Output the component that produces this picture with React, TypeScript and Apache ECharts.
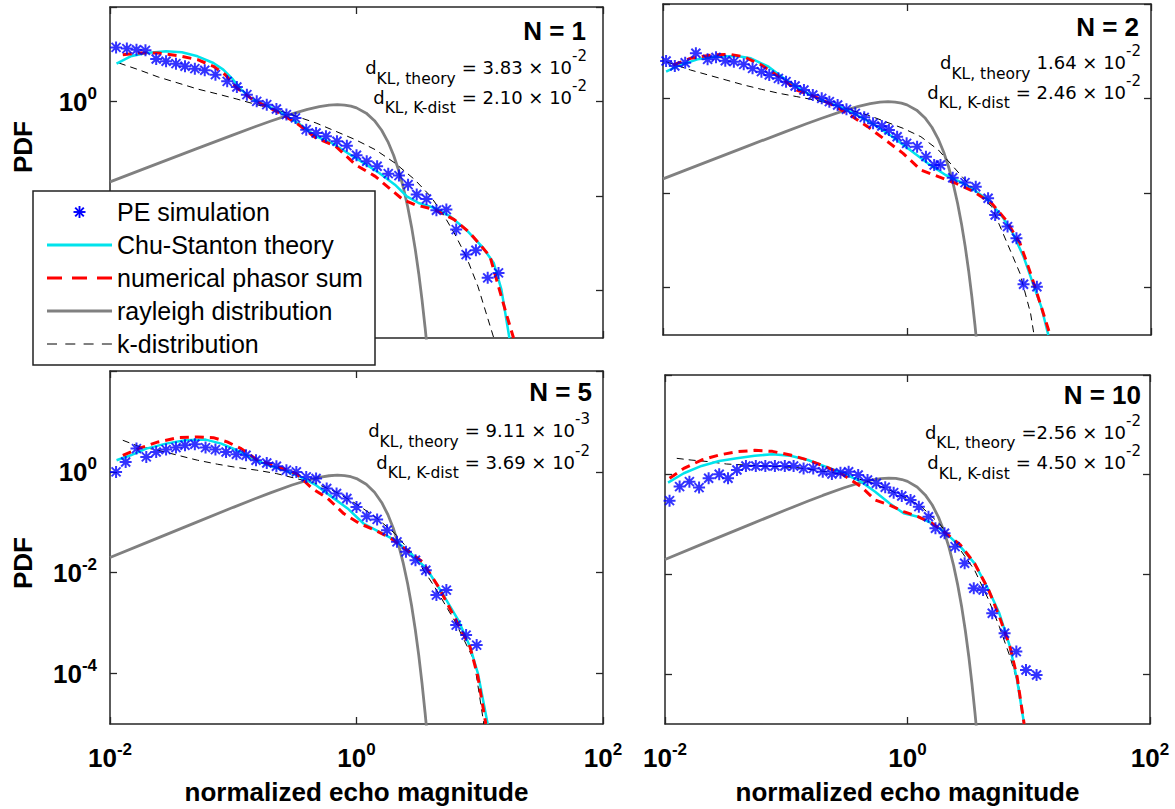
import { useEffect, useRef } from 'react';
import * as echarts from 'echarts';

const LABEL_FONT = '"Liberation Sans", Arial, Helvetica, sans-serif';
const NOTE_FONT = '"DejaVu Sans", Verdana, sans-serif';
const AXIS_COLOR = '#262626';

// Rayleigh PDF (same curve in every panel)
const rayleighX = [0.01, 0.02, 0.05, 0.1, 0.15, 0.2, 0.3, 0.4, 0.5, 0.6, 0.7, 0.8, 0.9, 1.0, 1.2, 1.4, 1.6, 1.8, 2.0, 2.2, 2.4, 2.6, 2.8, 3.0, 3.2, 3.4, 3.6, 3.7];
const rayleighY = [0.02, 0.04, 0.0998, 0.198, 0.293, 0.384, 0.548, 0.682, 0.779, 0.837, 0.858, 0.844, 0.801, 0.736, 0.569, 0.394, 0.247, 0.141, 0.0733, 0.0348, 0.0151, 0.00603, 0.00221, 0.00074, 0.000229, 0.0000647, 0.0000169, 0.0000084];

// N = 1
const n1StarX = [0.0112, 0.0137, 0.0164, 0.0194, 0.0237, 0.0285, 0.0343, 0.0406, 0.0488, 0.0587, 0.0717, 0.0893, 0.107, 0.129, 0.155, 0.187, 0.224, 0.27, 0.32, 0.391, 0.47, 0.565, 0.694, 0.835, 1.0, 1.21, 1.47, 1.81, 2.21, 2.62, 3.08, 3.7, 4.45, 5.36, 6.44, 7.75, 9.31, 11.6, 14.2];
const n1StarY = [14.0, 13.2, 12.5, 12.1, 7.96, 7.1, 6.34, 5.57, 4.97, 4.58, 3.71, 2.68, 2.04, 1.4, 1.01, 0.861, 0.698, 0.53, 0.451, 0.255, 0.217, 0.185, 0.145, 0.117, 0.0731, 0.0546, 0.0428, 0.0299, 0.0272, 0.0175, 0.0108, 0.00873, 0.00502, 0.00519, 0.00196, 0.000581, 0.000718, 0.000187, 0.000238];
const n1TheoryX = [0.0113, 0.0147, 0.0197, 0.0285, 0.0383, 0.0514, 0.069, 0.083, 0.0998, 0.116, 0.144, 0.194, 0.26, 0.35, 0.47, 0.631, 0.847, 1.14, 1.53, 2.05, 2.56, 3.19, 4.3, 5.77, 7.75, 10.4, 13.0, 15.0, 17.4];
const n1TheoryY = [6.33, 9.06, 10.6, 11.6, 11.0, 9.06, 6.54, 4.73, 2.9, 1.79, 1.1, 0.793, 0.528, 0.325, 0.184, 0.133, 0.0817, 0.0502, 0.0309, 0.0175, 0.00991, 0.00717, 0.00561, 0.00374, 0.00196, 0.000869, 0.000386, 0.000105, 0.00001];
const n1PhasorX = [0.0127, 0.017, 0.0246, 0.0356, 0.0514, 0.069, 0.0861, 0.107, 0.144, 0.224, 0.325, 0.47, 0.679, 0.982, 1.42, 2.05, 2.38, 2.97, 4.3, 6.21, 8.34, 12.1, 16.2, 18.8];
const n1PhasorY = [9.81, 10.6, 10.6, 9.35, 7.69, 5.56, 3.71, 1.94, 1.1, 0.622, 0.352, 0.17, 0.113, 0.0463, 0.0262, 0.0117, 0.00843, 0.0066, 0.00518, 0.00318, 0.00166, 0.000534, 0.0000366, 0.00001];
const n1KdistX = [0.0118, 0.017, 0.0246, 0.0356, 0.0514, 0.0743, 0.107, 0.155, 0.224, 0.325, 0.47, 0.679, 0.982, 1.42, 2.05, 2.97, 3.99, 4.98, 6.21, 7.75, 9.66, 13.0];
const n1KdistY = [6.54, 4.73, 3.31, 2.47, 1.84, 1.45, 1.13, 0.86, 0.675, 0.487, 0.352, 0.235, 0.156, 0.0961, 0.0502, 0.0223, 0.00991, 0.0044, 0.00166, 0.000534, 0.000124, 0.00001];

// N = 2
const n2StarX = [0.0106, 0.0125, 0.0152, 0.0186, 0.0232, 0.0272, 0.0324, 0.0381, 0.0459, 0.0542, 0.0641, 0.0743, 0.0883, 0.102, 0.121, 0.143, 0.169, 0.2, 0.231, 0.27, 0.319, 0.377, 0.446, 0.527, 0.622, 0.711, 0.83, 0.993, 1.21, 1.43, 1.67, 1.88, 2.37, 2.99, 3.66, 4.62, 5.28, 6.67, 7.89, 9.02, 11.6];
const n2StarY = [6.24, 4.89, 5.74, 9.06, 6.76, 7.45, 6.33, 6.03, 5.29, 4.36, 3.71, 3.15, 2.68, 2.28, 1.85, 1.52, 1.19, 1.01, 0.861, 0.732, 0.592, 0.487, 0.401, 0.299, 0.263, 0.216, 0.156, 0.113, 0.0961, 0.0591, 0.0394, 0.0394, 0.0212, 0.0167, 0.0137, 0.00777, 0.00345, 0.00196, 0.00111, 0.000118, 0.000105];
const n2TheoryX = [0.0106, 0.0138, 0.0192, 0.0269, 0.0402, 0.0525, 0.0733, 0.102, 0.143, 0.2, 0.279, 0.39, 0.544, 0.76, 1.06, 1.48, 2.07, 2.71, 3.54, 4.62, 6.04, 7.38, 9.02, 11.0, 12.6, 14.4];
const n2TheoryY = [3.71, 5.13, 6.76, 7.69, 7.94, 7.09, 4.73, 2.47, 1.4, 0.933, 0.675, 0.45, 0.276, 0.156, 0.0817, 0.0427, 0.0242, 0.0175, 0.0117, 0.00716, 0.00318, 0.00141, 0.000454, 0.000105, 0.0000397, 0.00001];
const n2PhasorX = [0.0121, 0.0168, 0.0252, 0.0352, 0.0459, 0.0641, 0.0895, 0.125, 0.175, 0.244, 0.341, 0.476, 0.665, 0.929, 1.3, 1.81, 2.53, 3.54, 4.94, 6.46, 8.44, 10.3, 12.6, 14.9];
const n2PhasorY = [5.13, 7.09, 8.34, 8.63, 7.69, 5.13, 2.9, 1.52, 1.1, 0.732, 0.45, 0.255, 0.133, 0.0695, 0.0309, 0.0223, 0.0161, 0.0107, 0.00609, 0.00271, 0.000869, 0.000201, 0.0000397, 0.00001];
const n2KdistX = [0.0106, 0.0168, 0.0235, 0.0329, 0.0459, 0.0641, 0.0895, 0.125, 0.175, 0.244, 0.341, 0.476, 0.665, 0.929, 1.3, 1.81, 2.53, 3.54, 4.94, 6.46, 8.44, 10.3, 11.0];
const n2KdistY = [6.03, 4.02, 3.15, 2.47, 1.94, 1.57, 1.29, 1.1, 0.933, 0.767, 0.573, 0.45, 0.325, 0.235, 0.156, 0.0817, 0.0309, 0.0117, 0.00518, 0.00102, 0.000201, 0.0000287, 0.00001];

// N = 5
const n5StarX = [0.0112, 0.0134, 0.0164, 0.0197, 0.0237, 0.0285, 0.0343, 0.0406, 0.0488, 0.0596, 0.0717, 0.0874, 0.106, 0.127, 0.153, 0.187, 0.224, 0.27, 0.325, 0.391, 0.47, 0.573, 0.689, 0.835, 1.0, 1.21, 1.47, 1.77, 2.13, 2.52, 3.01, 3.65, 4.45, 5.36, 6.44, 7.75, 9.44];
const n5StarY = [0.997, 1.57, 2.89, 1.98, 2.48, 2.76, 3.03, 3.36, 3.52, 3.03, 2.76, 2.48, 2.23, 2.13, 1.7, 1.5, 1.29, 1.08, 0.997, 0.794, 0.736, 0.467, 0.372, 0.296, 0.202, 0.132, 0.114, 0.0697, 0.0409, 0.0259, 0.0177, 0.0112, 0.0036, 0.00452, 0.000914, 0.000579, 0.000367];
const n5TheoryX = [0.0113, 0.0147, 0.0197, 0.0285, 0.0406, 0.0596, 0.08, 0.107, 0.144, 0.194, 0.26, 0.35, 0.47, 0.631, 0.847, 1.14, 1.53, 2.05, 2.76, 3.7, 4.98, 6.69, 8.34, 9.66, 11.6];
const n5TheoryY = [1.7, 2.13, 2.89, 3.63, 4.23, 4.36, 3.63, 2.68, 1.83, 1.35, 1.08, 0.794, 0.543, 0.319, 0.188, 0.0946, 0.0646, 0.0442, 0.024, 0.0121, 0.00388, 0.00115, 0.00034, 0.000101, 0.00001];
const n5PhasorX = [0.0127, 0.017, 0.0246, 0.0356, 0.0514, 0.069, 0.0893, 0.116, 0.155, 0.224, 0.325, 0.437, 0.586, 0.787, 1.06, 1.42, 1.91, 2.56, 3.44, 4.62, 6.21, 8.34, 9.66, 11.2];
const n5PhasorY = [2.13, 2.89, 3.92, 4.77, 4.92, 4.77, 3.92, 2.89, 1.75, 1.29, 0.925, 0.467, 0.296, 0.149, 0.0946, 0.0697, 0.0476, 0.028, 0.0164, 0.00526, 0.00134, 0.00034, 0.0000867, 0.00001];
const n5KdistX = [0.0127, 0.017, 0.0246, 0.0356, 0.0514, 0.0743, 0.107, 0.155, 0.224, 0.325, 0.47, 0.679, 0.982, 1.42, 2.05, 2.97, 4.3, 6.21, 8.98, 10.8];
const n5KdistY = [4.23, 3.22, 2.68, 2.13, 1.7, 1.42, 1.22, 1.08, 0.925, 0.736, 0.586, 0.401, 0.236, 0.128, 0.0598, 0.0207, 0.00526, 0.00115, 0.000185, 0.00001];

// N = 10
const n10StarX = [0.0109, 0.0132, 0.0159, 0.0191, 0.0229, 0.028, 0.0331, 0.0392, 0.0465, 0.0561, 0.0672, 0.0806, 0.0973, 0.115, 0.139, 0.167, 0.2, 0.238, 0.28, 0.327, 0.392, 0.468, 0.553, 0.655, 0.769, 0.897, 1.06, 1.24, 1.49, 1.7, 2.02, 2.47, 2.96, 3.52, 4.2, 5.0, 6.32, 7.9, 9.49, 11.6];
const n10StarY = [0.302, 0.577, 0.726, 0.551, 0.847, 1.02, 0.847, 1.24, 1.5, 1.5, 1.5, 1.5, 1.5, 1.5, 1.34, 1.34, 1.15, 1.03, 1.1, 1.15, 0.988, 0.784, 0.673, 0.559, 0.437, 0.375, 0.311, 0.229, 0.144, 0.0841, 0.0668, 0.0361, 0.0167, 0.00527, 0.00488, 0.00166, 0.00066, 0.000283, 0.000121, 0.0000964];
const n10TheoryX = [0.0106, 0.0143, 0.02, 0.028, 0.0392, 0.0549, 0.0769, 0.108, 0.151, 0.211, 0.296, 0.414, 0.541, 0.71, 0.929, 1.22, 1.59, 2.08, 2.73, 3.57, 4.67, 5.72, 7.0, 8.01, 9.16];
const n10TheoryY = [0.693, 1.07, 1.5, 1.88, 2.13, 2.41, 2.56, 2.41, 1.97, 1.45, 1.07, 0.726, 0.457, 0.267, 0.168, 0.144, 0.106, 0.0668, 0.0361, 0.0167, 0.00488, 0.00166, 0.000356, 0.0000765, 0.00001];
const n10PhasorX = [0.0109, 0.0143, 0.02, 0.028, 0.0392, 0.0549, 0.0769, 0.108, 0.151, 0.211, 0.296, 0.414, 0.541, 0.71, 0.929, 1.22, 1.59, 2.08, 2.73, 3.57, 4.67, 5.72, 7.0, 8.01, 9.16];
const n10PhasorY = [0.847, 1.34, 1.97, 2.49, 2.9, 3.08, 2.94, 2.49, 1.97, 1.45, 0.988, 0.577, 0.311, 0.247, 0.182, 0.144, 0.106, 0.0668, 0.039, 0.0167, 0.00488, 0.00143, 0.000356, 0.0000893, 0.00001];
const n10KdistX = [0.0125, 0.0164, 0.0229, 0.0321, 0.0449, 0.0628, 0.0879, 0.123, 0.172, 0.242, 0.338, 0.473, 0.663, 0.929, 1.3, 1.82, 2.55, 3.57, 4.67, 5.72, 7.0, 8.28, 9.16];
const n10KdistY = [2.13, 1.97, 1.83, 1.64, 1.57, 1.5, 1.45, 1.39, 1.24, 1.1, 0.915, 0.726, 0.533, 0.363, 0.229, 0.106, 0.039, 0.0123, 0.00308, 0.000897, 0.000225, 0.0000562, 0.00001];

// Axis ticks and labels
const xTickValues = [0.01, 1, 100];
const yTickValues = [1e-4, 1e-2, 1, 100];
const yLabelValues = [1e-4, 1e-2, 1];
const yLabelValuesTop = [1];

const legendNames = ['PE simulation', 'Chu-Stanton theory', 'numerical phasor sum', 'rayleigh distribution', 'k-distribution'];

// Panel annotations
const panelTitles = ['N = 1', 'N = 2', 'N = 5', 'N = 10'];
const theoryNotes = ['= 3.83 × 10', '1.64 × 10', '= 9.11 × 10', '=2.56 × 10'];
const theoryExps = ['-2', '-2', '-3', '-2'];
const kdistNotes = ['= 2.10 × 10', '= 2.46 × 10', '= 3.69 × 10', '= 4.50 × 10'];
const kdistExps = ['-2', '-2', '-2', '-2'];

const panelSeries = [
  { star: [n1StarX, n1StarY], theory: [n1TheoryX, n1TheoryY], phasor: [n1PhasorX, n1PhasorY], kdist: [n1KdistX, n1KdistY] },
  { star: [n2StarX, n2StarY], theory: [n2TheoryX, n2TheoryY], phasor: [n2PhasorX, n2PhasorY], kdist: [n2KdistX, n2KdistY] },
  { star: [n5StarX, n5StarY], theory: [n5TheoryX, n5TheoryY], phasor: [n5PhasorX, n5PhasorY], kdist: [n5KdistX, n5KdistY] },
  { star: [n10StarX, n10StarY], theory: [n10TheoryX, n10TheoryY], phasor: [n10PhasorX, n10PhasorY], kdist: [n10KdistX, n10KdistY] },
];

// Layout of the 2x2 panels
const layout = [
  { grid: { left: 110, top: 7, width: 493, height: 331 }, title: [586, 31], noteRight: 587, noteY: [67.5, 97], bottomRow: false, yLabels: yLabelValuesTop },
  { grid: { left: 663, top: 4, width: 488, height: 331 }, title: [1139, 27], noteRight: 1141, noteY: [62.5, 92], bottomRow: false, yLabels: null },
  { grid: { left: 110, top: 371, width: 493, height: 353 }, title: [592, 392], noteRight: 590, noteY: [430.5, 462], bottomRow: true, yLabels: yLabelValues },
  { grid: { left: 665, top: 375, width: 485, height: 349 }, title: [1141, 395], noteRight: 1141, noteY: [432, 462.5], bottomRow: true, yLabels: null },
];

// Series colours and strokes
const COLORS = { star: '#0000ff', theory: '#00e3ec', phasor: '#ff0000', rayleigh: '#808080', kdist: '#000000' };

// MATLAB-style asterisk marker
const STAR = 'path://M5,0h2v12h-2z M0,5h12v2h-12z M0.8,2.2L2.2,0.8L11.2,9.8L9.8,11.2z M9.8,0.8L11.2,2.2L2.2,11.2L0.8,9.8z';

const pairs = (xs: number[], ys: number[]) => xs.map((x, i) => [x, ys[i]]);

const powerLabel = (v: number) => `{b|10}{s|${Math.round(Math.log10(v))}}`;
const powerRich = {
  b: { fontFamily: LABEL_FONT, fontWeight: 'bold', fontSize: 26, lineHeight: 34, color: '#000' },
  s: { fontFamily: LABEL_FONT, fontWeight: 'bold', fontSize: 17, lineHeight: 12, verticalAlign: 'top', color: '#000' },
};

const noteRich = {
  d: { fontFamily: NOTE_FONT, fontSize: 18, lineHeight: 38 },
  sub: { fontFamily: NOTE_FONT, fontSize: 15.5, lineHeight: 22, verticalAlign: 'bottom' },
  m: { fontFamily: NOTE_FONT, fontSize: 18, lineHeight: 38, padding: [0, 0, 0, 6] },
  sup: { fontFamily: NOTE_FONT, fontSize: 15, lineHeight: 12, verticalAlign: 'top' },
};

function makeXAxis(i: number, position: 'bottom' | 'top', labels: boolean) {
  return {
    type: 'log', logBase: 10, gridIndex: i, position, min: 0.01, max: 100,
    axisLine: { show: true, onZero: false, lineStyle: { color: AXIS_COLOR, width: 1.5 } },
    axisTick: { show: true, inside: true, length: 7, customValues: xTickValues, lineStyle: { color: AXIS_COLOR, width: 1.3 } },
    axisLabel: { show: labels, customValues: xTickValues, margin: 17, formatter: powerLabel, rich: powerRich },
    minorTick: { show: false }, splitLine: { show: false }, minorSplitLine: { show: false },
    name: labels ? 'normalized echo magnitude' : '',
    nameLocation: 'middle', nameGap: 55,
    nameTextStyle: { fontFamily: LABEL_FONT, fontWeight: 'bold', fontSize: 26, color: '#000' },
    silent: true,
  };
}

function makeYAxis(i: number, position: 'left' | 'right', labels: number[] | null) {
  return {
    type: 'log', logBase: 10, gridIndex: i, position, min: 1e-5, max: 100,
    axisLine: { show: true, onZero: false, lineStyle: { color: AXIS_COLOR, width: 1.5 } },
    axisTick: { show: true, inside: true, length: 7, customValues: yTickValues, lineStyle: { color: AXIS_COLOR, width: 1.3 } },
    axisLabel: { show: !!labels, customValues: labels || yLabelValues, margin: 13, formatter: powerLabel, rich: powerRich },
    minorTick: { show: false }, splitLine: { show: false }, minorSplitLine: { show: false },
    silent: true,
  };
}

// Boxed legend drawn in the lower-left corner of the first panel
function buildLegend() {
  const left = 33, top = 191, width = 342, height = 174;
  const rowTop = 212, rowStep = 33, iconX0 = 47, iconX1 = 112, textX = 117;
  const items: any[] = [{
    type: 'rect', shape: { x: left, y: top, width, height },
    style: { fill: '#fff', stroke: '#222', lineWidth: 1.5 }, z: 50,
  }];
  const iconStyles = [
    null,
    { stroke: COLORS.theory, lineWidth: 3 },
    { stroke: COLORS.phasor, lineWidth: 3, lineDash: [15, 10] },
    { stroke: COLORS.rayleigh, lineWidth: 3 },
    { stroke: COLORS.kdist, lineWidth: 1, lineDash: [10, 8.3] },
  ];
  legendNames.forEach((name, k) => {
    const y = rowTop + k * rowStep;
    const st = iconStyles[k];
    if (st) {
      items.push({ type: 'line', shape: { x1: iconX0, y1: y, x2: iconX1, y2: y }, style: st, z: 51 });
    } else {
      const cx = (iconX0 + iconX1) / 2, r = 6, d = 4.3;
      [[-r, 0, r, 0], [0, -r, 0, r], [-d, -d, d, d], [-d, d, d, -d]].forEach(([a, b, c, e]) => {
        items.push({ type: 'line', shape: { x1: cx + a, y1: y + b, x2: cx + c, y2: y + e }, style: { stroke: COLORS.star, lineWidth: 1.9 }, z: 51 });
      });
    }
    items.push({
      type: 'text', x: textX, y, z: 51,
      style: { text: name, fontFamily: LABEL_FONT, fontSize: 25, fill: '#000', align: 'left', verticalAlign: 'middle' },
    });
  });
  return items;
}

function buildOption() {
  const xAxes: any[] = [];
  const yAxes: any[] = [];
  const series: any[] = [];
  const graphics: any[] = [];

  layout.forEach((l, i) => {
    xAxes.push(makeXAxis(i, 'bottom', l.bottomRow));
    xAxes.push(makeXAxis(i, 'top', false));
    yAxes.push(makeYAxis(i, 'left', l.yLabels));
    yAxes.push(makeYAxis(i, 'right', null));

    const p = panelSeries[i];
    const axes = { xAxisIndex: 2 * i, yAxisIndex: 2 * i };
    series.push({
      type: 'line', name: legendNames[3], ...axes, data: pairs(rayleighX, rayleighY),
      symbol: 'none', lineStyle: { color: COLORS.rayleigh, width: 2.8 }, itemStyle: { color: COLORS.rayleigh }, z: 2, silent: true,
    });
    series.push({
      type: 'line', name: legendNames[4], ...axes, data: pairs(p.kdist[0], p.kdist[1]),
      symbol: 'none', lineStyle: { color: COLORS.kdist, width: 1, type: [7, 5] }, itemStyle: { color: COLORS.kdist }, z: 3, silent: true,
    });
    series.push({
      type: 'line', name: legendNames[1], ...axes, data: pairs(p.theory[0], p.theory[1]),
      symbol: 'none', lineStyle: { color: COLORS.theory, width: 2.5 }, itemStyle: { color: COLORS.theory }, z: 4, silent: true,
    });
    series.push({
      type: 'line', name: legendNames[2], ...axes, data: pairs(p.phasor[0], p.phasor[1]),
      symbol: 'none', lineStyle: { color: COLORS.phasor, width: 3, type: [9, 6] }, itemStyle: { color: COLORS.phasor }, z: 5, silent: true,
    });
    series.push({
      type: 'scatter', name: legendNames[0], ...axes, data: pairs(p.star[0], p.star[1]),
      symbol: STAR, symbolSize: 12, symbolKeepAspect: true, itemStyle: { color: COLORS.star }, z: 6, silent: true,
    });

    graphics.push({
      type: 'text', x: l.title[0], y: l.title[1], z: 20,
      style: { text: panelTitles[i], fontFamily: LABEL_FONT, fontWeight: 'bold', fontSize: 26, fill: '#000', align: 'right', verticalAlign: 'middle' },
    });
    graphics.push({
      type: 'text', x: l.noteRight, y: l.noteY[0], z: 20,
      style: {
        text: `{d|d}{sub|KL, theory}{m|${theoryNotes[i]}}{sup|${theoryExps[i]}}`,
        rich: noteRich, fill: '#000', align: 'right', verticalAlign: 'middle',
      },
    });
    graphics.push({
      type: 'text', x: l.noteRight, y: l.noteY[1], z: 20,
      style: {
        text: `{d|d}{sub|KL, K-dist}{m|${kdistNotes[i]}}{sup|${kdistExps[i]}}`,
        rich: noteRich, fill: '#000', align: 'right', verticalAlign: 'middle',
      },
    });
  });

  [147, 563].forEach((y) => {
    graphics.push({
      type: 'text', x: 23, y, rotation: Math.PI / 2, z: 20,
      style: { text: 'PDF', fontFamily: LABEL_FONT, fontWeight: 'bold', fontSize: 26, fill: '#000', align: 'center', verticalAlign: 'middle' },
    });
  });

  graphics.push(...buildLegend());

  return {
    animation: false,
    backgroundColor: '#fff',
    textStyle: { fontFamily: LABEL_FONT },
    grid: layout.map((l) => ({ ...l.grid, containLabel: false, outerBoundsMode: 'none', show: false })),
    xAxis: xAxes,
    yAxis: yAxes,
    series,
    graphic: graphics,
  };
}

export default function App() {
  const ref = useRef<HTMLDivElement>(null);
  useEffect(() => {
    if (!ref.current) return;
    const chart = echarts.init(ref.current, undefined, { renderer: 'svg' });
    chart.setOption(buildOption() as any);
    return () => chart.dispose();
  }, []);
  return <div ref={ref} style={{ position: 'absolute', left: 0, top: 0, width: 1175, height: 809, background: '#fff' }} />;
}
